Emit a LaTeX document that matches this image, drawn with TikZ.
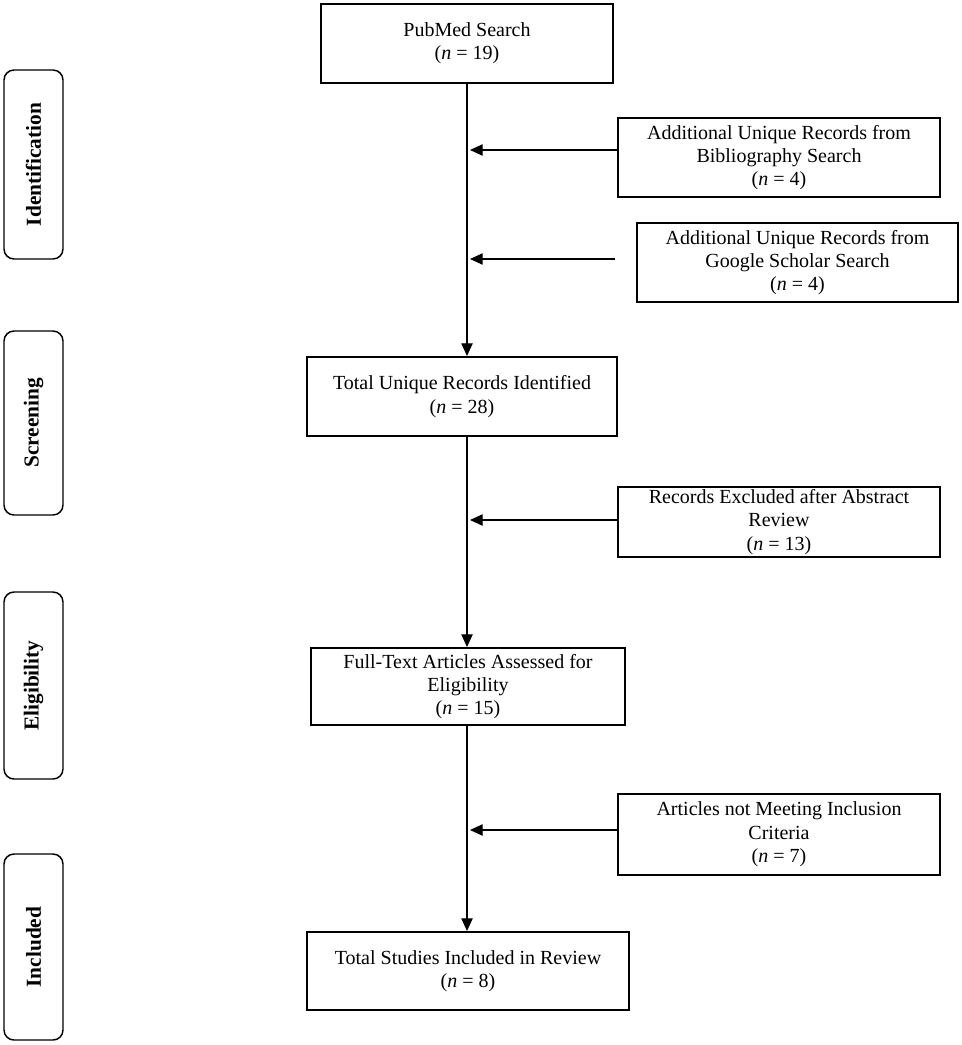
\documentclass[tikz,border=0pt]{standalone}
\usepackage{fontspec}
\setmainfont{Liberation Serif}
\usetikzlibrary{arrows.meta}
\begin{document}
\begin{tikzpicture}[x=0.75pt,y=-0.75pt,
  box/.style={draw, line width=1.5pt, align=center, inner sep=0pt, font=\fontsize{15}{17.5}\selectfont},
  phase/.style={draw, line width=1.1pt, rounded corners=7.5pt, rotate=90, inner sep=0pt, font=\fontsize{16}{18}\selectfont\bfseries},
  arr/.style={line width=0.9pt, -{Triangle[length=9.5pt,width=8.5pt]}},
  ln/.style={line width=0.9pt}]
\fill[white] (0,0) rectangle (961,1045);
\useasboundingbox (0,0) rectangle (961,1045);

% phase labels
\node[phase, minimum width={189*0.75pt}, minimum height={59*0.75pt}] (ph1) at (33.5,164.5) {Identification};
\node[phase, minimum width={184*0.75pt}, minimum height={59*0.75pt}] (ph2) at (33.5,423) {Screening};
\node[phase, minimum width={187*0.75pt}, minimum height={59*0.75pt}] (ph3) at (33.5,685.5) {Eligibility};
\node[phase, minimum width={186*0.75pt}, minimum height={59*0.75pt}] (ph4) at (33.5,947) {Included};

% main column
\node[box, minimum width={292*0.75pt}, minimum height={79*0.75pt}] (pub) at (467,43.5) {PubMed Search\\(\textit{n} = 19)};
\node[box, minimum width={310*0.75pt}, minimum height={79*0.75pt}] (tu) at (462,396.5) {Total Unique Records Identified\\(\textit{n} = 28)};
\node[box, minimum width={314*0.75pt}, minimum height={77*0.75pt}] (ft) at (468,686.5) {Full-Text Articles Assessed for\\Eligibility\\(\textit{n} = 15)};
\node[box, minimum width={322*0.75pt}, minimum height={78*0.75pt}] (ts) at (468,971) {Total Studies Included in Review\\(\textit{n} = 8)};

% side boxes
\node[box, minimum width={322*0.75pt}, minimum height={79*0.75pt}] (b1) at (779,157.5) {Additional Unique Records from\\Bibliography Search\\(\textit{n} = 4)};
\node[box, minimum width={321*0.75pt}, minimum height={79*0.75pt}] (b2) at (797.5,262.5) {Additional Unique Records from\\Google Scholar Search\\(\textit{n} = 4)};
\node[box, minimum width={322*0.75pt}, minimum height={70*0.75pt}] (b3) at (779,522) {Records Excluded after Abstract\\Review\\(\textit{n} = 13)};
\node[box, minimum width={322*0.75pt}, minimum height={81*0.75pt}] (b4) at (779,834.5) {Articles not Meeting Inclusion\\Criteria\\(\textit{n} = 7)};

% main connectors
\draw[arr] (pub.south) -- (tu.north -| pub.south);
\draw[arr] (tu.south -| pub.south) -- (ft.north -| pub.south);
\draw[arr] (ft.south -| pub.south) -- (ts.north -| pub.south);

% side connectors
\coordinate (m1) at (470,150);
\coordinate (m2) at (470,259);
\coordinate (s2) at (615,259);
\coordinate (m3) at (470,520);
\coordinate (m4) at (470,830);
\draw[arr] (b1.west |- m1) -- (m1);
\draw[arr] (s2) -- (m2);
\draw[arr] (b3.west |- m3) -- (m3);
\draw[arr] (b4.west |- m4) -- (m4);
\end{tikzpicture}
\end{document}
